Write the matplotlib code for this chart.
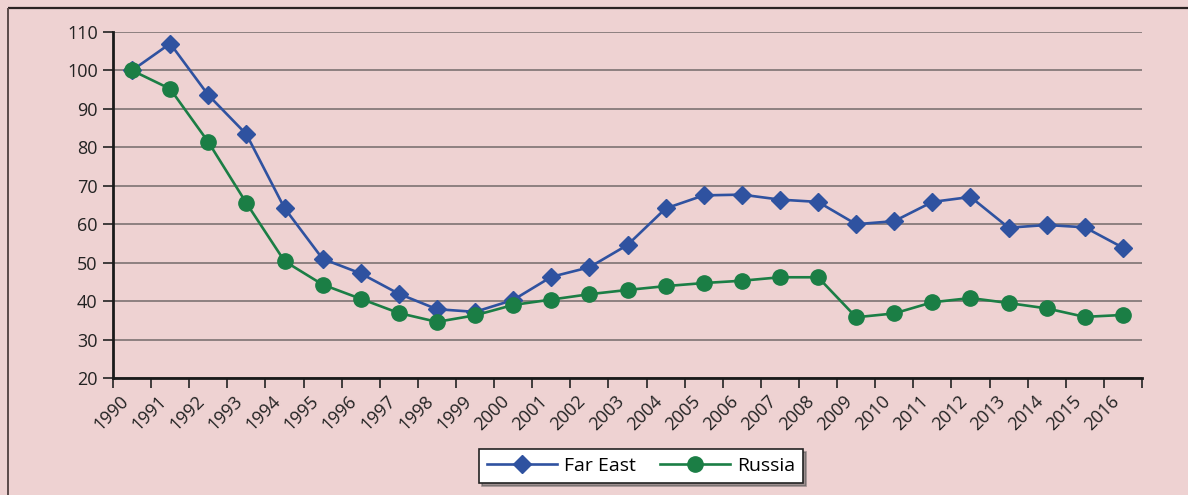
import matplotlib
matplotlib.use("Agg")
import matplotlib.pyplot as plt
from matplotlib.lines import Line2D

years = [str(y) for y in range(1990, 2017)]
far_east = [100, 107, 93.6, 83.4, 64.2, 51.0, 47.2, 41.9, 37.9, 37.2, 40.3, 46.3, 48.8,
            54.6, 64.1, 67.5, 67.7, 66.4, 65.8, 60.0, 60.8, 65.8, 67.1, 59.1, 59.8, 59.2, 53.9]
russia = [100, 95.2, 81.4, 65.5, 50.4, 44.3, 40.6, 36.9, 34.6, 36.3, 39.0, 40.4, 41.8,
          42.9, 43.9, 44.7, 45.3, 46.2, 46.2, 35.8, 36.8, 39.7, 40.8, 39.5, 38.1, 35.9, 36.4]
y_ticks = [20, 30, 40, 50, 60, 70, 80, 90, 100, 110]

bg = '#eed2d2'
blue = '#2f52a0'
green = '#1b7e45'

plt.rcParams['font.family'] = ['Open Sans', 'DejaVu Sans']

fig = plt.figure(figsize=(11.88, 4.95), dpi=100, facecolor=bg)
ax = fig.add_axes([113/1188, 1-378/495, (1142-113)/1188, (378-32)/495])
ax.set_facecolor(bg)

x = list(range(len(years)))
ax.plot(x, far_east, color=blue, lw=1.9, marker='D', ms=9.5, mfc=blue, mec=blue,
        label='Far East', zorder=3)
ax.plot(x, russia, color=green, lw=1.9, marker='o', ms=11, mfc=green, mec=green,
        label='Russia', zorder=4)

ax.set_xlim(-0.5, len(years) - 0.5)
ax.set_ylim(20, 110)
ax.set_yticks(y_ticks)
ax.set_yticklabels([str(v) for v in y_ticks], fontsize=13, color='#222222')
ax.tick_params(axis='y', length=7, width=1.2, color='#222222', pad=4)

ax.set_xticks(x)
ax.set_xticklabels(years, rotation=45, ha='right', va='top', fontsize=13,
                   color='#222222', rotation_mode='default')
ax.tick_params(axis='x', which='major', length=0, pad=10)
ax.set_xticks([i - 0.5 for i in range(len(years) + 1)], minor=True)
ax.tick_params(axis='x', which='minor', length=7, width=1.2, color='#222222')

ax.grid(axis='y', color='#857a7a', lw=1.3, zorder=0)
ax.set_axisbelow(True)
for s in ['top', 'right']:
    ax.spines[s].set_visible(False)
for s in ['left', 'bottom']:
    ax.spines[s].set_color('#1a1a1a')
    ax.spines[s].set_linewidth(2)

leg = fig.legend(loc='center', bbox_to_anchor=(641/1188, 1-466/495), ncol=2,
                 fontsize=14, frameon=True, fancybox=False, shadow=True,
                 framealpha=1, edgecolor='#222222', handlelength=3.6,
                 columnspacing=1.2, handletextpad=0.4, borderpad=0.4,
                 borderaxespad=0)
leg.get_frame().set_facecolor('white')
leg.get_frame().set_linewidth(1.2)

# outer frame lines (top and left)
fig.add_artist(Line2D([8/1188, 1.01], [1-8/495, 1-8/495], transform=fig.transFigure,
                      color='#2a2222', lw=1.6, solid_capstyle='butt'))
fig.add_artist(Line2D([8/1188, 8/1188], [-0.01, 1-8/495], transform=fig.transFigure,
                      color='#5a4a4a', lw=1.4, solid_capstyle='butt'))

fig.savefig('out.png', dpi=100, facecolor=bg)
